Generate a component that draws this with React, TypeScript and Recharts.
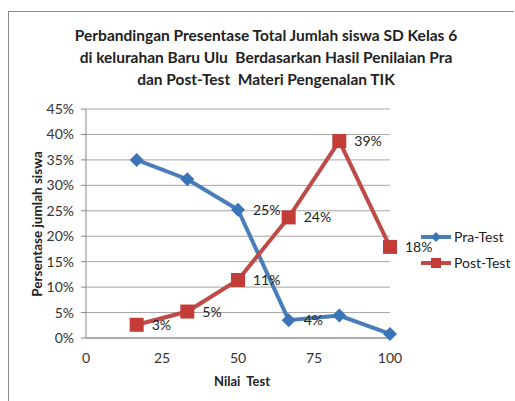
import React from "react";
import { LineChart, Line, XAxis, YAxis, CartesianGrid, LabelList } from "recharts";

const nilai = [16.67, 33.33, 50, 66.67, 83.33, 100];
const praTest = [35, 31.2, 25.2, 3.5, 4.4, 0.8];
const postTest = [2.6, 5.2, 11.4, 23.7, 38.7, 17.9];
const praLabelIdx = [2, 3];
const xTicks = [0, 25, 50, 75, 100];
const yTicks = [0, 5, 10, 15, 20, 25, 30, 35, 40, 45];
const titleLines = [
  "Perbandingan Presentase Total Jumlah siswa SD Kelas 6",
  "di kelurahan Baru Ulu  Berdasarkan Hasil Penilaian Pra",
  "dan Post-Test  Materi Pengenalan TIK",
];
const seriesNames = ["Pra-Test", "Post-Test"];

const data = nilai.map((x, i) => ({ x, pra: praTest[i], post: postTest[i], i }));

const FONT = "Lato, 'Open Sans', sans-serif";
const BLUE = "#4a7ebb";
const RED = "#be4b48";

const Diamond = (props: any) => {
  const { cx, cy } = props;
  if (cx == null || cy == null) return null;
  const r = 7;
  return <path d={`M${cx},${cy - r}L${cx + r},${cy}L${cx},${cy + r}L${cx - r},${cy}Z`} fill="#3c74b8" />;
};
const Square = (props: any) => {
  const { cx, cy } = props;
  if (cx == null || cy == null) return null;
  const r = 7;
  return <rect x={cx - r} y={cy - r} width={2 * r} height={2 * r} fill="#c33c37" />;
};

const makeLabel = (allowed: number[] | null) => (props: any) => {
  const { x, y, value, index } = props;
  if (allowed && !allowed.includes(index)) return null;
  return (
    <text x={x + 15} y={y} dy={5} fontSize={14} fill="#222" fontFamily={FONT}>
      {Math.round(value) + "%"}
    </text>
  );
};

export default function App() {
  return (
    <div style={{ position: "absolute", left: 0, top: 0, width: 515, height: 401, background: "#fff" }}>
      <div style={{ position: "absolute", left: 8, top: 11, width: 505, height: 390, borderLeft: "1.5px solid #8a8a8a", borderTop: "1.5px solid #8a8a8a" }} />
      <div style={{ position: "absolute", left: 0, top: 0 }}>
        <LineChart width={515} height={401} data={data} margin={{ top: 109, right: 125, left: 0, bottom: 0 }}>
          <CartesianGrid vertical={false} stroke="#a6a6a6" strokeWidth={1} />
          <XAxis
            dataKey="x"
            type="number"
            domain={[0, 100]}
            ticks={xTicks}
            height={63}
            axisLine={{ stroke: "#868686" }}
            tickLine={false}
            tick={{ fontSize: 14, fill: "#333", fontFamily: FONT }}
            tickMargin={9}
          />
          <YAxis
            type="number"
            domain={[0, 45]}
            ticks={yTicks}
            width={86}
            axisLine={{ stroke: "#868686" }}
            tickLine={{ stroke: "#868686" }}
            tickSize={5}
            tickFormatter={(v: number) => v + "%"}
            tick={{ fontSize: 14, fill: "#333", fontFamily: FONT }}
            tickMargin={7}
          />
          <Line dataKey="pra" name={seriesNames[0]} stroke={BLUE} strokeWidth={4} dot={Diamond} activeDot={false} isAnimationActive={false}>
            <LabelList dataKey="pra" content={makeLabel(praLabelIdx)} />
          </Line>
          <Line dataKey="post" name={seriesNames[1]} stroke={RED} strokeWidth={4} dot={Square} activeDot={false} isAnimationActive={false}>
            <LabelList dataKey="post" content={makeLabel(null)} />
          </Line>
        </LineChart>
      </div>
      <svg style={{ position: "absolute", left: 0, top: 0, pointerEvents: "none" }} width={515} height={401}>
        {titleLines.map((t, i) => (
          <text key={i} x={266} y={41 + i * 22} textAnchor="middle" fontSize={15.5} fontWeight="bold" fill="#222" fontFamily={FONT} style={{ whiteSpace: "pre" }}>
            {t}
          </text>
        ))}
        <text x={242} y={386} textAnchor="middle" fontSize={13} fontWeight="bold" fill="#222" fontFamily={FONT} style={{ whiteSpace: "pre" }}>Nilai  Test</text>
        <text x={42} y={224} transform="rotate(-90 42 224)" textAnchor="middle" fontSize={13.5} fontWeight="bold" fill="#222" fontFamily={FONT}>
          Persentase jumlah siswa
        </text>
        <g transform="translate(415,225)">
          <line x1={6} y1={12} x2={36} y2={12} stroke={BLUE} strokeWidth={4} />
          <path d="M21,7L26,12L21,17L16,12Z" fill="#3c74b8" />
          <text x={39} y={17} fontSize={14} fill="#222" fontFamily={FONT}>{seriesNames[0]}</text>
          <line x1={6} y1={38} x2={36} y2={38} stroke={RED} strokeWidth={4} />
          <rect x={16} y={33} width={10} height={10} fill="#c33c37" />
          <text x={39} y={43} fontSize={14} fill="#222" fontFamily={FONT}>{seriesNames[1]}</text>
        </g>
      </svg>
    </div>
  );
}
